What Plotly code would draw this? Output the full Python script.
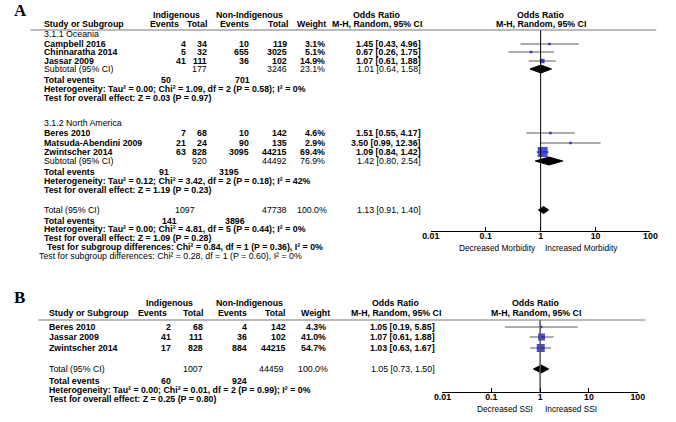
import plotly.graph_objects as go

W, H = 676, 422
FONT = "Liberation Sans"
FS = 8.8

# ---- panel A data: 3.1.1 Oceania ----
oce_study = ["Campbell 2016", "Chinnaratha 2014", "Jassar 2009"]
oce_ind_events = [4, 5, 41]
oce_ind_total = [34, 32, 111]
oce_non_events = [10, 655, 36]
oce_non_total = [119, 3025, 102]
oce_weight = [3.1, 5.1, 14.9]
oce_or = [1.45, 0.67, 1.07]
oce_lo = [0.43, 0.26, 0.61]
oce_hi = [4.96, 1.75, 1.88]
oce_sub = [1.01, 0.64, 1.58]           # or, lo, hi
oce_sub_totals = [177, 3246, 23.1]      # ind total, non total, weight
oce_events = [50, 701]
oce_het = "Heterogeneity: Tau² = 0.00; Chi² = 1.09, df = 2 (P = 0.58); I² = 0%"
oce_test = "Test for overall effect: Z = 0.03 (P = 0.97)"

# ---- panel A data: 3.1.2 North America ----
na_study = ["Beres 2010", "Matsuda-Abendini 2009", "Zwintscher 2014"]
na_ind_events = [7, 21, 63]
na_ind_total = [68, 24, 828]
na_non_events = [10, 90, 3095]
na_non_total = [142, 135, 44215]
na_weight = [4.6, 2.9, 69.4]
na_or = [1.51, 3.50, 1.09]
na_lo = [0.55, 0.99, 0.84]
na_hi = [4.17, 12.36, 1.42]
na_sub = [1.42, 0.80, 2.54]
na_sub_totals = [920, 44492, 76.9]
na_events = [91, 3195]
na_het = "Heterogeneity: Tau² = 0.12; Chi² = 3.42, df = 2 (P = 0.18); I² = 42%"
na_test = "Test for overall effect: Z = 1.19 (P = 0.23)"

# ---- panel A overall ----
a_total = [1.13, 0.91, 1.40]
a_total_n = [1097, 47738, 100.0]
a_events = [141, 3896]
a_het = "Heterogeneity: Tau² = 0.00; Chi² = 4.81, df = 5 (P = 0.44); I² = 0%"
a_test = "Test for overall effect: Z = 1.09 (P = 0.28)"
a_sub1 = "Test for subgroup differences: Chi² = 0.84, df = 1 (P = 0.36), I² = 0%"
a_sub2 = "Test for subgroup differences: Chi² = 0.28, df = 1 (P = 0.60), I² = 0%"

# ---- panel B data ----
b_study = ["Beres 2010", "Jassar 2009", "Zwintscher 2014"]
b_ind_events = [2, 41, 17]
b_ind_total = [68, 111, 828]
b_non_events = [4, 36, 884]
b_non_total = [142, 102, 44215]
b_weight = [4.3, 41.0, 54.7]
b_or = [1.05, 1.07, 1.03]
b_lo = [0.19, 0.61, 0.63]
b_hi = [5.85, 1.88, 1.67]
b_total = [1.05, 0.73, 1.50]
b_total_n = [1007, 44459, 100.0]
b_events = [60, 924]
b_het = "Heterogeneity: Tau² = 0.00; Chi² = 0.01, df = 2 (P = 0.99); I² = 0%"
b_test = "Test for overall effect: Z = 0.25 (P = 0.80)"

tick_vals = [0.01, 0.1, 1, 10, 100]
tick_text = ["0.01", "0.1", "1", "10", "100"]

fig = go.Figure()


def label(x, y, s, anchor="left", bold=True, size=FS, family=FONT, color="black"):
    fig.add_annotation(x=x / W, y=1 - y / H, xref="paper", yref="paper",
                       text=f"<b>{s}</b>" if bold else s, showarrow=False,
                       xanchor=anchor, yanchor="middle", borderpad=0,
                       font=dict(family=family, size=size, color=color))


def ci_text(o, l, h):
    return f"{o:.2f} [{l:.2f}, {h:.2f}]"


def header(hcols, y1, y2, ind_c, non_c, or_c, plot_c):
    label(ind_c, y1, "Indigenous", "center")
    label(non_c, y1, "Non-Indigenous", "center")
    label(or_c, y1, "Odds Ratio", "center")
    label(plot_c, y1, "Odds Ratio", "center")
    label(hcols[0], y2, "Study or Subgroup")
    label(hcols[1], y2, "Events", "right")
    label(hcols[2], y2, "Total", "right")
    label(hcols[3], y2, "Events", "right")
    label(hcols[4], y2, "Total", "right")
    label(hcols[5], y2, "Weight", "right")
    label(or_c, y2, "M-H, Random, 95% CI", "center")
    label(plot_c, y2, "M-H, Random, 95% CI", "center")


def study_block(cols, ys, names, ie, it, ne, nt, w, o, lo, hi, xa, ya, k):
    for i, y in enumerate(ys):
        label(cols[0], y, names[i])
        label(cols[1], y, ie[i], "right")
        label(cols[2], y, it[i], "right")
        label(cols[3], y, ne[i], "right")
        label(cols[4], y, nt[i], "right")
        label(cols[5], y, f"{w[i]:.1f}%", "right")
        label(cols[6], y, ci_text(o[i], lo[i], hi[i]), "right")
    lx, ly = [], []
    for i, y in enumerate(ys):
        lx += [lo[i], hi[i], None]
        ly += [y, y, None]
    fig.add_trace(go.Scatter(x=lx, y=ly, mode="lines", xaxis=xa, yaxis=ya,
                             line=dict(color="#5a5a5a", width=1), hoverinfo="skip"))
    fig.add_trace(go.Scatter(x=o, y=ys, mode="markers", xaxis=xa, yaxis=ya,
                             marker=dict(symbol="square", color="#0000cc",
                                         size=[max(2.5, k * wi ** 0.5) for wi in w],
                                         line=dict(width=0))))


def diamond(vals, y, h, xa, ya):
    o, l, hi = vals
    fig.add_trace(go.Scatter(x=[l, o, hi, o, l], y=[y, y - h, y, y + h, y],
                             mode="lines", fill="toself", fillcolor="black",
                             line=dict(color="black", width=1), xaxis=xa, yaxis=ya,
                             hoverinfo="skip"))


# ================= panel A =================
colsA = [35, 182, 204, 247, 286, 325, 423]
label(4, 11, "A", bold=True, size=17, family="Liberation Serif")
header([35, 175, 204, 247, 287, 326], 15, 24, 172, 246, 377, 545)
fig.add_shape(type="line", xref="paper", yref="paper", x0=22 / W, x1=663 / W,
              y0=1 - 30 / H, y1=1 - 30 / H, line=dict(color="#777", width=1))

label(35, 34, "3.1.1 Oceania", bold=False)
study_block(colsA, [44, 52, 61], oce_study, oce_ind_events, oce_ind_total,
            oce_non_events, oce_non_total, oce_weight, oce_or, oce_lo, oce_hi, "x", "y", 1.2)
label(35, 69, "Subtotal (95% CI)", bold=False)
label(colsA[2], 69, oce_sub_totals[0], "right", bold=False)
label(colsA[4], 69, oce_sub_totals[1], "right", bold=False)
label(colsA[5], 69, f"{oce_sub_totals[2]:.1f}%", "right", bold=False)
label(colsA[6], 69, ci_text(*oce_sub), "right", bold=False)
diamond(oce_sub, 69, 4, "x", "y")
label(35, 80, "Total events")
label(167, 80, oce_events[0], "right")
label(248, 80, oce_events[1], "right")
label(35, 89, oce_het)
label(35, 98, oce_test)

label(35, 123, "3.1.2 North America", bold=False)
study_block(colsA, [133, 143, 152], na_study, na_ind_events, na_ind_total,
            na_non_events, na_non_total, na_weight, na_or, na_lo, na_hi, "x", "y", 1.2)
label(35, 161, "Subtotal (95% CI)", bold=False)
label(colsA[2], 161, na_sub_totals[0], "right", bold=False)
label(colsA[4], 161, na_sub_totals[1], "right", bold=False)
label(colsA[5], 161, f"{na_sub_totals[2]:.1f}%", "right", bold=False)
label(colsA[6], 161, ci_text(*na_sub), "right", bold=False)
diamond(na_sub, 161, 4, "x", "y")
label(35, 172, "Total events")
label(165, 172, na_events[0], "right")
label(237, 172, na_events[1], "right")
label(35, 181, na_het)
label(35, 190, na_test)

label(35, 210, "Total (95% CI)", bold=False)
label(192, 210, a_total_n[0], "right", bold=False)
label(colsA[4], 210, a_total_n[1], "right", bold=False)
label(327, 210, f"{a_total_n[2]:.1f}%", "right", bold=False)
label(colsA[6], 210, ci_text(*a_total), "right", bold=False)
diamond(a_total, 210, 3.5, "x", "y")
label(35, 221, "Total events")
label(173, 221, a_events[0], "right")
label(243, 221, a_events[1], "right")
label(35, 229, a_het)
label(35, 238, a_test)
label(38, 247, a_sub1)
label(30, 256, a_sub2, bold=False)

fig.add_trace(go.Scatter(x=[1, 1], y=[30, 231], mode="lines", xaxis="x", yaxis="y",
                         line=dict(color="black", width=1), hoverinfo="skip"))
label(541, 248, "Decreased Morbidity", "right", bold=False, size=8.3)
label(548, 248, "Increased Morbidity", "left", bold=False, size=8.3)

# ================= panel B =================
colsB = [40, 167, 200, 245, 285, 326, 437]
label(4, 297, "B", bold=True, size=17, family="Liberation Serif")
header([40, 163, 200, 245, 284, 330], 303, 313, 164, 246, 396, 540)
fig.add_shape(type="line", xref="paper", yref="paper", x0=30 / W, x1=652 / W,
              y0=1 - 320 / H, y1=1 - 320 / H, line=dict(color="#777", width=1))
study_block(colsB, [327, 337, 348], b_study, b_ind_events, b_ind_total,
            b_non_events, b_non_total, b_weight, b_or, b_lo, b_hi, "x2", "y2", 1.08)
label(40, 369, "Total (95% CI)", bold=False)
label(colsB[2], 369, b_total_n[0], "right", bold=False)
label(283, 369, b_total_n[1], "right", bold=False)
label(328, 369, f"{b_total_n[2]:.1f}%", "right", bold=False)
label(colsB[6], 369, ci_text(*b_total), "right", bold=False)
diamond(b_total, 369, 4, "x2", "y2")
label(40, 381, "Total events")
label(167, 381, b_events[0], "right")
label(245, 381, b_events[1], "right")
label(40, 390, b_het)
label(40, 399, b_test)

fig.add_trace(go.Scatter(x=[1, 1], y=[320, 392], mode="lines", xaxis="x2", yaxis="y2",
                         line=dict(color="#555", width=1.5), hoverinfo="skip"))
label(538, 409, "Decreased SSI", "right", bold=False, size=8.3)
label(548, 409, "Increased SSI", "left", bold=False, size=8.3)

axis_common = dict(type="log", range=[-2, 2], showgrid=False, zeroline=False,
                   showline=True, linecolor="black", linewidth=1, ticks="inside",
                   ticklen=4, tickcolor="black", tickvals=tick_vals,
                   ticktext=[f"<b>{t}</b>" for t in tick_text],
                   ticklabelstandoff=-4,
                   tickfont=dict(family=FONT, size=FS, color="black"))

fig.update_layout(
    width=W, height=H, margin=dict(l=0, r=0, t=0, b=0),
    paper_bgcolor="white", plot_bgcolor="white", showlegend=False,
    xaxis=dict(domain=[432 / W, 657 / W], anchor="y", **axis_common),
    yaxis=dict(domain=[1 - 231 / H, 1 - 30 / H], range=[231, 30], visible=False),
    xaxis2=dict(domain=[444 / W, 644 / W], anchor="y2", **axis_common),
    yaxis2=dict(domain=[1 - 392 / H, 1 - 320 / H], range=[392, 320], visible=False),
)

fig.write_html("out.html", config={"displayModeBar": False},
               post_script="document.body.style.margin='0';")
